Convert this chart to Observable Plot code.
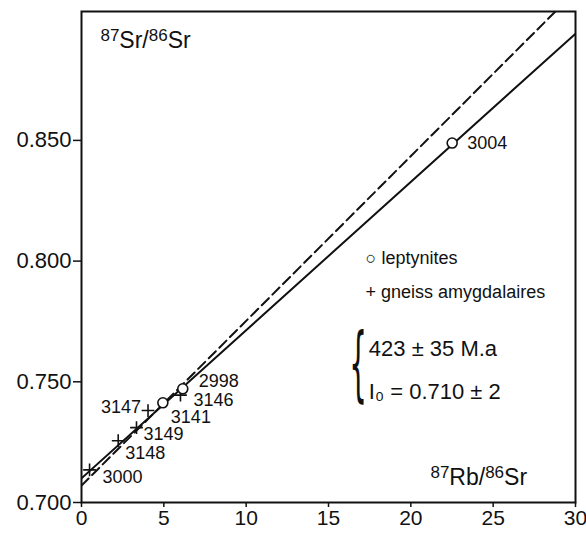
<!DOCTYPE html>
<html>
<head>
<meta charset="utf-8">
<script src="https://cdn.jsdelivr.net/npm/d3@7"></script>
<script src="https://cdn.jsdelivr.net/npm/@observablehq/plot@0.6"></script>
<style>
  html, body { margin: 0; padding: 0; background: #fff; }
  #chart svg { display: block; }
</style>
</head>
<body>
<div id="chart"></div>
<script>
// ---- data ----
const sampleIds   = ["3004", "2998", "3141", "3146", "3147", "3149", "3148", "3000"];
const sampleType  = ["leptynite", "leptynite", "leptynite", "gneiss", "gneiss", "gneiss", "gneiss", "gneiss"];
const rbSr        = [22.51, 6.15, 4.94, 6.01, 4.04, 3.34, 2.23, 0.49];
const srSr        = [0.8489, 0.7471, 0.7413, 0.7445, 0.7381, 0.7310, 0.7256, 0.7135];

// isochron (solid) and reference line (dashed): end points
const isoX   = [0, 30];
const isoY   = [0.7100, 0.8942];
const refX   = [0, 28.78];
const refY   = [0.7070, 0.9034];

// axis ticks
const xTicks = [0, 5, 10, 15, 20, 25, 30];
const yTicks = [0.700, 0.750, 0.800, 0.850];
const xDomain = [0, 30];
const yDomain = [0.700, 0.9034];

// annotations (in data units)
const yTitleParts = [["87", true], ["Sr/", false], ["86", true], ["Sr", false]];
const xTitleParts = [["87", true], ["Rb/", false], ["86", true], ["Sr", false]];
const legendLabels = ["○ leptynites", "+ gneiss amygdalaires"];
const ageLines = ["423 ± 35 M.a", "I₀ = 0.710 ± 2"];

// ---- build tables ----
const samples = sampleIds.map((id, i) => ({id, type: sampleType[i], x: rbSr[i], y: srSr[i]}));
const iso = isoX.map((x, i) => ({x, y: isoY[i]}));
const ref = refX.map((x, i) => ({x, y: refY[i]}));
const yTitle = yTitleParts.map(p => p[0]).join("");
const xTitle = xTitleParts.map(p => p[0]).join("");

// label offsets (style only)
const labelOffset = {
  "3004": [15, 0, "start"],
  "2998": [16, -8, "start"],
  "3146": [13, 5, "start"],
  "3141": [8, 14, "start"],
  "3147": [-7, -3, "end"],
  "3149": [7, 7, "start"],
  "3148": [7, 13, "start"],
  "3000": [13, 7, "start"]
};

const labelMarks = samples.map(s => {
  const [dx, dy, anchor] = labelOffset[s.id];
  return Plot.text([s], {x: "x", y: "y", text: "id", dx, dy, textAnchor: anchor,
    fontSize: 18, fill: "#111"});
});

const font = "'Liberation Sans', Arial, sans-serif";

const chart = Plot.plot({
  width: 586,
  height: 536,
  marginLeft: 81,
  marginRight: 11,
  marginTop: 11,
  marginBottom: 34,
  style: {fontFamily: font, fontSize: "22px", background: "#fff", color: "#111"},
  x: {domain: xDomain, ticks: xTicks, label: null},
  y: {domain: yDomain, ticks: yTicks, label: null},
  marks: [
    Plot.axisX({ticks: xTicks, tickSize: 5, tickPadding: 3, strokeWidth: 1.5, fontSize: 21, label: null}),
    Plot.axisY({ticks: yTicks, tickSize: 8, tickPadding: 2, strokeWidth: 1.5, fontSize: 22, tickFormat: d3.format(".3f"), label: null}),
    Plot.frame({stroke: "#111", strokeWidth: 2}),
    Plot.line(ref, {x: "x", y: "y", stroke: "#111", strokeWidth: 2, strokeDasharray: "10,5", clip: true}),
    Plot.line(iso, {x: "x", y: "y", stroke: "#111", strokeWidth: 2, clip: true}),
    Plot.dot(samples.filter(d => d.type === "gneiss"), {x: "x", y: "y", symbol: "plus", r: 4.2, stroke: "#111", strokeWidth: 1.6}),
    Plot.dot(samples.filter(d => d.type === "leptynite"), {x: "x", y: "y", symbol: "circle", r: 5, stroke: "#111", fill: "#fff", strokeWidth: 1.6}),
    ...labelMarks,
    Plot.text([yTitle], {x: 1.15, y: 0.8915, text: d => d, textAnchor: "start", fontSize: 23}),
    Plot.text([xTitle], {x: 21.19, y: 0.7104, text: d => d, textAnchor: "start", fontSize: 23}),
    Plot.text([legendLabels[0]], {x: 17.25, y: 0.8012, text: d => d, textAnchor: "start", fontSize: 18}),
    Plot.text([legendLabels[1]], {x: 17.25, y: 0.7871, text: d => d, textAnchor: "start", fontSize: 18}),
    Plot.text(["{"], {x: 16.8, y: 0.7460, text: d => d, fontSize: 62, fontFamily: "'DejaVu Sans', sans-serif"}),
    Plot.text([ageLines[0]], {x: 17.45, y: 0.7637, text: d => d, textAnchor: "start", fontSize: 22}),
    Plot.text([ageLines[1]], {x: 17.45, y: 0.7456, text: d => d, textAnchor: "start", fontSize: 22})
  ]
});

document.getElementById("chart").append(chart);

// superscript isotope labels with tspans
const texts = d3.select(chart).selectAll("text");
function superscript(full, parts) {
  texts.filter(function() { return this.textContent === full; }).each(function() {
    const t = d3.select(this);
    t.text(null);
    parts.forEach(([s, sup]) => {
      t.append("tspan")
        .attr("font-size", sup ? 17 : 23)
        .attr("baseline-shift", sup ? "40%" : "0%")
        .text(s);
    });
  });
}
superscript(yTitle, yTitleParts);
superscript(xTitle, xTitleParts);

// thin, tall brace: keep Plot's placement, squeeze horizontally, stretch vertically
texts.filter(function() { return this.textContent === "{"; }).each(function() {
  const el = this;
  let base = el.getAttribute("transform") || "";
  const xa = el.getAttribute("x"), ya = el.getAttribute("y");
  if (xa != null || ya != null) {
    base = `translate(${+xa || 0},${+ya || 0}) ` + base;
    el.removeAttribute("x");
    el.removeAttribute("y");
  }
  el.setAttribute("transform", (base + " scale(0.45,1.32)").trim());
});
</script>
</body>
</html>
